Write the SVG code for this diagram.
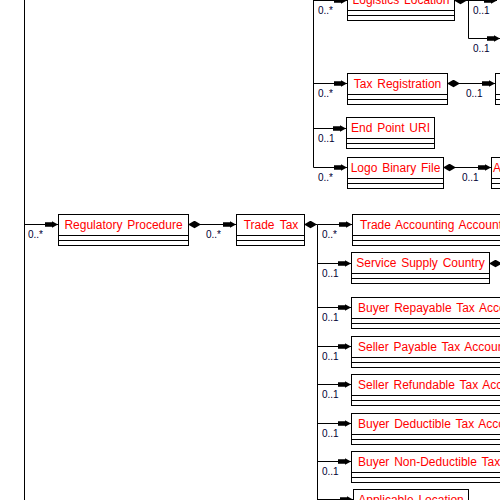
<svg xmlns="http://www.w3.org/2000/svg" width="500" height="500" viewBox="0 0 500 500">
<style>
.box{fill:#fff;stroke:#000;stroke-width:1}
.div{stroke:#000;stroke-width:1}
.t{font-family:"Liberation Sans",Arial,sans-serif;font-size:12px;fill:#ff0000;word-spacing:1.5px}
.m{text-anchor:middle}
.lbl{font-family:"Liberation Sans",Arial,sans-serif;font-size:10px;fill:#000033}
.c{fill:none;stroke:#000;stroke-width:1}
.a{marker-end:url(#arr)}
.d{marker-start:url(#dia)}
</style>
<defs>
<marker id="arr" markerUnits="userSpaceOnUse" markerWidth="14" markerHeight="8" refX="13" refY="4" orient="auto">
<path d="M0,1.8 L7,1.8 L7,0.8 L13,4 L7,7.2 L7,6.2 L0,6.2 Z" fill="#000"/>
</marker>
<marker id="dia" markerUnits="userSpaceOnUse" markerWidth="14" markerHeight="9" refX="0" refY="4" orient="auto">
<path d="M0,4 L6.5,0.2 L13,4 L6.5,7.8 Z" fill="#000"/>
</marker>
</defs>
<rect width="500" height="500" fill="#fff"/>
<g id="connectors">
<path class="c" d="M24.5,0 V500"/>
<path class="c a" d="M24.5,224.5 H58"/>
<path class="c d a" d="M188,224.5 H236"/>
<path class="c d" d="M304,224.5 H317.5 V500"/>
<path class="c a" d="M317.5,224.5 H352"/>
<path class="c a" d="M317.5,263.5 H351"/>
<path class="c a" d="M317.5,307.5 H351"/>
<path class="c a" d="M317.5,346.5 H351"/>
<path class="c a" d="M317.5,384.5 H351"/>
<path class="c a" d="M317.5,423.5 H351"/>
<path class="c a" d="M317.5,461.5 H351"/>
<path class="c a" d="M317.5,499.5 H353"/>
<path class="c d" d="M489,263.5 H500"/>
<path class="c" d="M313.5,0 V167.5"/>
<path class="c a" d="M313.5,0.5 H347"/>
<path class="c a" d="M313.5,83.5 H347"/>
<path class="c a" d="M313.5,128.5 H346"/>
<path class="c a" d="M313.5,167.5 H347"/>
<path class="c d a" d="M454,0.5 H497"/>
<path class="c a" d="M468.5,0.5 V38.5 H500"/>
<path class="c d a" d="M447,83.5 H495"/>
<path class="c d a" d="M443,167.5 H491"/>
<text class="lbl" x="28" y="238">0..*</text>
<text class="lbl" x="206" y="238">0..*</text>
<text class="lbl" x="322" y="238">0..*</text>
<text class="lbl" x="322" y="277">0..1</text>
<text class="lbl" x="322" y="321">0..1</text>
<text class="lbl" x="322" y="360">0..1</text>
<text class="lbl" x="322" y="398">0..1</text>
<text class="lbl" x="322" y="437">0..1</text>
<text class="lbl" x="322" y="475">0..1</text>
<text class="lbl" x="318" y="14">0..*</text>
<text class="lbl" x="318" y="97">0..*</text>
<text class="lbl" x="318" y="142">0..1</text>
<text class="lbl" x="318" y="181">0..*</text>
<text class="lbl" x="473" y="14">0..1</text>
<text class="lbl" x="473" y="52">0..1</text>
<text class="lbl" x="466" y="97">0..1</text>
<text class="lbl" x="462" y="181">0..1</text>
</g>
<g id="regulatory-procedure">
<rect class="box" x="58.5" y="214.5" width="130" height="31"/>
<path class="div" d="M58.5,235.5 H188.5 M58.5,240.5 H188.5"/>
<text class="t m" x="123.5" y="229">Regulatory Procedure</text>
</g>
<g id="trade-tax">
<rect class="box" x="236.5" y="214.5" width="68" height="31"/>
<path class="div" d="M236.5,235.5 H304.5 M236.5,240.5 H304.5"/>
<text class="t m" x="271" y="229" style="word-spacing:2px">Trade Tax</text>
</g>
<g id="logistics-location">
<rect class="box" x="347.5" y="-10.5" width="107" height="31"/>
<path class="div" d="M347.5,10.5 H454.5 M347.5,15.5 H454.5"/>
<text class="t m" x="401" y="4">Logistics Location</text>
</g>
<g id="tax-registration">
<rect class="box" x="347.5" y="73.5" width="100" height="31"/>
<path class="div" d="M347.5,94.5 H447.5 M347.5,99.5 H447.5"/>
<text class="t m" x="397.5" y="88">Tax Registration</text>
</g>
<g id="tax-registration-child">
<rect class="box" x="495.5" y="73.5" width="60" height="31"/>
<path class="div" d="M495.5,94.5 H555 M495.5,99.5 H555"/>
</g>
<g id="end-point-uri">
<rect class="box" x="346.5" y="117.5" width="88" height="31"/>
<path class="div" d="M346.5,138.5 H434.5 M346.5,143.5 H434.5"/>
<text class="t m" x="390.5" y="132">End Point URI</text>
</g>
<g id="logo-binary-file">
<rect class="box" x="347.5" y="157.5" width="96" height="31"/>
<path class="div" d="M347.5,178.5 H443.5 M347.5,183.5 H443.5"/>
<text class="t m" x="395.5" y="172">Logo Binary File</text>
</g>
<g id="logo-binary-file-child">
<rect class="box" x="491.5" y="157.5" width="60" height="31"/>
<path class="div" d="M491.5,178.5 H551 M491.5,183.5 H551"/>
<text class="t" x="493" y="172">A</text>
</g>
<g id="trade-accounting-account">
<rect class="box" x="352.5" y="214.5" width="200" height="31"/>
<path class="div" d="M352.5,235.5 H552 M352.5,240.5 H552"/>
<text class="t" x="360" y="229">Trade Accounting Account</text>
</g>
<g id="service-supply-country">
<rect class="box" x="351.5" y="252.5" width="138" height="31"/>
<path class="div" d="M351.5,273.5 H489.5 M351.5,278.5 H489.5"/>
<text class="t m" x="420.5" y="267">Service Supply Country</text>
</g>
<g id="buyer-repayable-tax-account">
<rect class="box" x="351.5" y="297.5" width="200" height="31"/>
<path class="div" d="M351.5,318.5 H552 M351.5,323.5 H552"/>
<text class="t" x="358" y="312">Buyer Repayable Tax Account</text>
</g>
<g id="seller-payable-tax-account">
<rect class="box" x="351.5" y="336.5" width="200" height="31"/>
<path class="div" d="M351.5,357.5 H552 M351.5,362.5 H552"/>
<text class="t" x="358" y="351">Seller Payable Tax Account</text>
</g>
<g id="seller-refundable-tax-account">
<rect class="box" x="351.5" y="374.5" width="200" height="31"/>
<path class="div" d="M351.5,395.5 H552 M351.5,400.5 H552"/>
<text class="t" x="358" y="389">Seller Refundable Tax Account</text>
</g>
<g id="buyer-deductible-tax-account">
<rect class="box" x="351.5" y="413.5" width="200" height="31"/>
<path class="div" d="M351.5,434.5 H552 M351.5,439.5 H552"/>
<text class="t" x="358" y="428">Buyer Deductible Tax Account</text>
</g>
<g id="buyer-non-deductible-tax-account">
<rect class="box" x="351.5" y="451.5" width="200" height="31"/>
<path class="div" d="M351.5,472.5 H552 M351.5,477.5 H552"/>
<text class="t" x="358" y="466">Buyer Non-Deductible Tax Account</text>
</g>
<g id="applicable-location">
<rect class="box" x="353.5" y="489.5" width="115" height="31"/>
<text class="t m" x="411" y="504">Applicable Location</text>
</g>
</svg>
